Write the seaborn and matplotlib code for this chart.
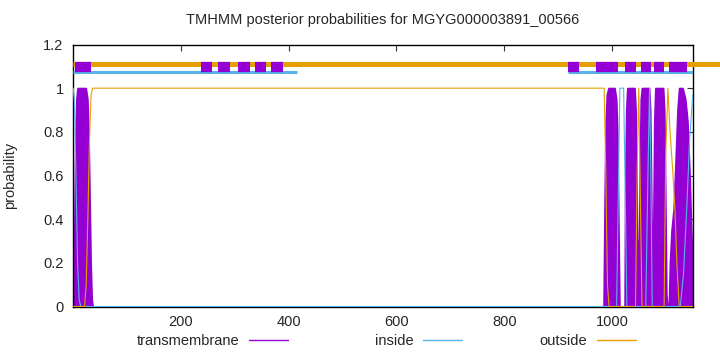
import matplotlib

matplotlib.use("Agg")
import matplotlib.pyplot as plt
import pandas as pd
import seaborn as sns
from matplotlib.lines import Line2D

# posterior probability curves (residue position, probability)
tm_pos = [1, 3, 5, 7, 9, 24, 27, 29, 31, 33, 35, 37,
          984, 986, 988, 990, 993, 1004, 1007, 1009, 1011, 1013,
          1023, 1024, 1026, 1028, 1041, 1043, 1045, 1046, 1050,
          1051, 1053, 1055, 1068, 1070, 1072, 1074, 1075,
          1076, 1078, 1080, 1094, 1096, 1098, 1100, 1102,
          1105, 1107, 1110, 1114, 1118, 1121, 1124, 1130, 1135, 1139, 1143, 1146, 1149]
tm_prob = [0, 0.3, 0.75, 0.95, 1, 1, 0.95, 0.8, 0.5, 0.2, 0.03, 0,
           0, 0.5, 0.85, 0.97, 1, 1, 0.95, 0.8, 0.4, 0,
           0, 0.5, 0.9, 1, 1, 0.9, 0.5, 0.3, 0.3,
           0.6, 0.95, 1, 1, 0.9, 0.5, 0.05, 0,
           0.3, 0.85, 1, 1, 0.9, 0.5, 0.05, 0,
           0, 0.2, 0.35, 0.45, 0.7, 0.9, 1, 1, 0.95, 0.85, 0.6, 0.35, 0.15]

inside_pos = [1, 3, 6, 9, 12, 15, 1008, 1011, 1014, 1021, 1024, 1027,
              1062, 1066, 1069, 1071, 1074, 1126, 1132, 1138, 1143, 1149]
inside_prob = [1, 0.95, 0.6, 0.2, 0.03, 0, 0, 0.5, 1, 1, 0.5, 0,
               0, 0.6, 1, 0.7, 0, 0, 0.15, 0.45, 0.75, 0.97]

outside_pos = [1, 22, 25, 28, 31, 34, 37, 985, 988, 991, 994,
               1043, 1046, 1049, 1052, 1055, 1096, 1099, 1103, 1107,
               1112, 1116, 1120, 1124, 1149]
outside_prob = [0, 0, 0.1, 0.4, 0.75, 0.97, 1, 1, 0.6, 0.1, 0,
                0, 0.6, 1, 0.5, 0, 0, 0.7, 1, 0.8,
                0.62, 0.45, 0.18, 0, 0]

# predicted topology bars above the curves
tm_segments = [(5, 34), (238, 259), (269, 291), (307, 329), (337, 359), (368, 390),
               (917, 939), (969, 1011), (1024, 1044), (1053, 1072), (1077, 1096),
               (1106, 1139)]
inside_segments = [(1, 415), (917, 1149)]
outside_segments = [(1, 1200)]

seq_len = 1149
title = "TMHMM posterior probabilities for MGYG000003891_00566"

purple = "#9400D3"
blue = "#56B4E9"
orange = "#E69F00"

sns.set_theme(style="white")
plt.rcParams["font.family"] = ["Liberation Sans", "DejaVu Sans"]
plt.rcParams["font.size"] = 10.5

fig = plt.figure(figsize=(7.2, 3.52), dpi=100)
ax = fig.add_axes([73.25 / 720, 45.5 / 352, 619.45 / 720, 262 / 352])

# impulses in the original -> filled area with a slightly wider edge
ax.fill_between(tm_pos, tm_prob, 0, color=purple, edgecolor=purple, lw=1.4, zorder=2)

curves = pd.concat([
    pd.DataFrame({"pos": inside_pos, "prob": inside_prob, "state": "inside"}),
    pd.DataFrame({"pos": outside_pos, "prob": outside_prob, "state": "outside"}),
])
sns.lineplot(data=curves, x="pos", y="prob", hue="state",
             palette={"inside": blue, "outside": orange},
             lw=0.8, legend=False, ax=ax, zorder=3)

for a, b in outside_segments:
    ax.plot([a, b], [1.112, 1.112], color=orange, lw=3.6, solid_capstyle="butt",
            clip_on=False, zorder=4)
for a, b in inside_segments:
    ax.plot([a, b], [1.074, 1.074], color=blue, lw=2.2, solid_capstyle="butt",
            zorder=4)
for a, b in tm_segments:
    ax.plot([a, b], [1.096, 1.096], color=purple, lw=7.4, solid_capstyle="butt",
            zorder=5)

ax.set_xlim(1, seq_len)
ax.set_ylim(0, 1.2)
ax.set_xticks([200, 400, 600, 800, 1000])
ax.set_yticks([0, 0.2, 0.4, 0.6, 0.8, 1.0, 1.2])
ax.set_yticklabels(["0", "0.2", "0.4", "0.6", "0.8", "1", "1.2"])
ax.tick_params(direction="in", top=True, right=True, length=4, width=0.8,
               color="#333333", labelsize=10.5)
ax.tick_params(axis="y", pad=7)
ax.tick_params(axis="x", pad=6)
for sp in ax.spines.values():
    sp.set_color("black")
    sp.set_linewidth(1)
ax.set_xlabel("")
ax.set_ylabel("probability", fontsize=10.5)
ax.yaxis.set_label_coords(-0.091, 0.5)

fig.text(383 / 720, 1 - 20 / 352, title, ha="center", va="center", fontsize=10.5)

# legend entries below the plot, label first then line sample
for label, color, right_px in [("transmembrane", purple, 288),
                               ("inside", blue, 462),
                               ("outside", orange, 636)]:
    h = Line2D([], [], color=color, lw=1)
    fig.legend(handles=[h], labels=[label], loc="center right",
               bbox_to_anchor=(right_px / 720, 1 - 341 / 352), frameon=False,
               markerfirst=False, handlelength=2.7, handletextpad=0.65,
               borderpad=0, borderaxespad=0, fontsize=10.5)

plt.savefig("out.png", dpi=100)
plt.close()
